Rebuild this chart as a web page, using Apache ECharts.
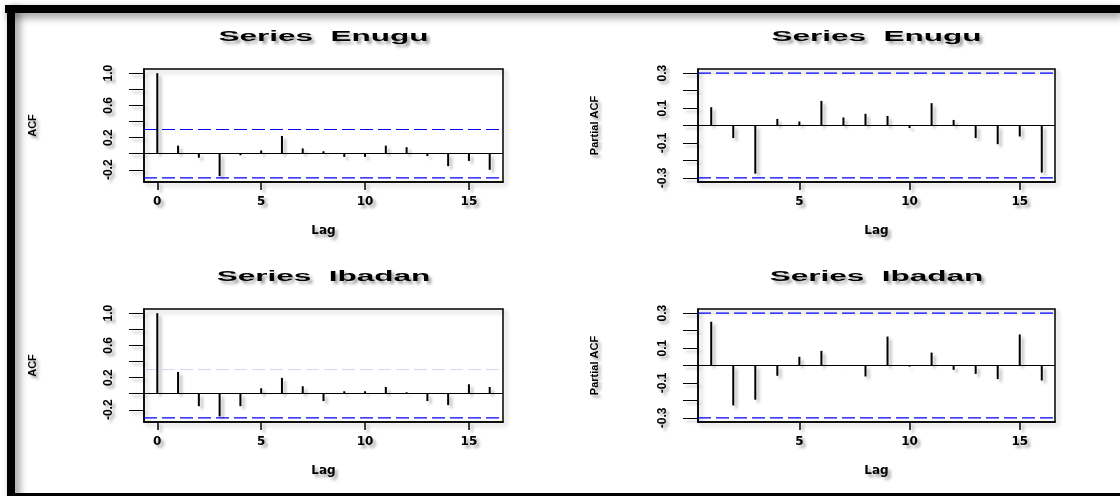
<!DOCTYPE html>
<html><head><meta charset="utf-8">
<script src="https://cdn.jsdelivr.net/npm/echarts@6/dist/echarts.min.js"></script>
<style>html,body{margin:0;padding:0;background:#fff}#c{width:1120px;height:496px}</style>
</head><body><div id="c"></div>
<script>
// ---- data ----
const lagsAcf = [0,1,2,3,4,5,6,7,8,9,10,11,12,13,14,15,16];
const lagsPacf = [1,2,3,4,5,6,7,8,9,10,11,12,13,14,15,16];
const acfEnugu = [1.0,0.10,-0.05,-0.28,-0.02,0.04,0.22,0.065,0.03,-0.04,-0.04,0.10,0.08,-0.03,-0.155,-0.09,-0.20];
const pacfEnugu = [0.105,-0.072,-0.276,0.038,0.023,0.141,0.046,0.067,0.055,-0.015,0.128,0.032,-0.072,-0.107,-0.063,-0.27];
const acfIbadan = [1.0,0.27,-0.155,-0.283,-0.155,0.067,0.196,0.092,-0.092,0.03,0.03,0.083,0.017,-0.092,-0.142,0.117,0.083];
const pacfIbadan = [0.251,-0.229,-0.196,-0.059,0.050,0.084,-0.002,-0.063,0.166,-0.006,0.074,-0.025,-0.048,-0.078,0.178,-0.086];
const confLimit = 0.30;
const acfTicks = [-0.2,0,0.2,0.4,0.6,0.8,1.0];
const acfTickLabels = [-0.2,0.2,0.6,1.0];
const pacfTicks = [-0.3,-0.2,-0.1,0,0.1,0.2,0.3];
const pacfTickLabels = [-0.3,-0.1,0.1,0.3];
const acfLagTicks = [0,5,10,15];
const pacfLagTicks = [5,10,15];
const acfLagRange = [-0.64, 16.64];
const pacfLagRange = [0.4, 16.6];
const acfValueRange = [-0.352, 1.052];
const pacfValueRange = [-0.324, 0.324];
const titles = ['Series  Enugu','Series  Enugu','Series  Ibadan','Series  Ibadan'];
const yNames = ['ACF','Partial ACF','ACF','Partial ACF'];
const xName = 'Lag';

// ---- layout ----
const panels = [
  {left:144, top:69, width:359, height:113, lags:lagsAcf, vals:acfEnugu, acf:true, upperFaint:false},
  {left:698, top:69, width:357, height:113, lags:lagsPacf, vals:pacfEnugu, acf:false, upperFaint:false},
  {left:144, top:309, width:359, height:113, lags:lagsAcf, vals:acfIbadan, acf:true, upperFaint:true},
  {left:698, top:309, width:357, height:113, lags:lagsPacf, vals:pacfIbadan, acf:false, upperFaint:false}
];
const shadowTxt = () => ({textShadowColor:'rgba(0,0,0,0.35)', textShadowBlur:3, textShadowOffsetX:3, textShadowOffsetY:3});
const shadowLine = () => ({shadowColor:'rgba(0,0,0,0.3)', shadowBlur:3, shadowOffsetX:3, shadowOffsetY:3});

const grid = [], xAxis = [], yAxis = [], series = [], graphic = [];
panels.forEach((p, i) => {
  const xr = p.acf ? acfLagRange : pacfLagRange;
  const yr = p.acf ? acfValueRange : pacfValueRange;
  grid.push({left:p.left, top:p.top, width:p.width, height:p.height, show:true,
    borderColor:'#000', borderWidth:1.5, backgroundColor:'transparent',
    shadowColor:'rgba(0,0,0,0.25)', shadowBlur:4, shadowOffsetX:3, shadowOffsetY:3});
  const xt = p.acf ? acfLagTicks : pacfLagTicks;
  xAxis.push({type:'value', gridIndex:i, min:xr[0], max:xr[1],
    name: xName, nameLocation:'middle', nameGap:43,
    nameTextStyle:Object.assign({color:'#000', fontFamily:'DejaVu Sans', fontWeight:'bold', fontSize:12}, shadowTxt()),
    axisLine:{show:true, onZero:false, lineStyle:{color:'#000', width:1.5}},
    splitLine:{show:false},
    axisTick:{show:true, length:8, customValues:xt, lineStyle:Object.assign({color:'#000', width:1.5}, shadowLine())},
    axisLabel:Object.assign({customValues:xt, margin:14, color:'#000', fontFamily:'DejaVu Sans', fontWeight:'bold', fontSize:12}, shadowTxt())
  });
  const yt = p.acf ? acfTicks : pacfTicks;
  const yl = p.acf ? acfTickLabels : pacfTickLabels;
  yAxis.push({type:'value', gridIndex:i, min:yr[0], max:yr[1],
    name: yNames[i], nameLocation:'middle', nameRotate:90, nameGap: p.acf ? 106 : 98,
    nameTextStyle:Object.assign({color:'#000', fontFamily:'Liberation Sans', fontWeight:'bold', fontSize:11}, shadowTxt()),
    axisLine:{show:true, onZero:false, lineStyle:{color:'#000', width:1.5}},
    splitLine:{show:false},
    axisTick:{show:true, length:15, customValues:yt, lineStyle:Object.assign({color:'#000', width:1}, shadowLine())},
    axisLabel:Object.assign({customValues:yl, rotate:90, margin:29, color:'#000', fontFamily:'Liberation Sans', fontWeight:'bold', fontSize:12,
      formatter: v => v.toFixed(1)}, shadowTxt())
  });
  // confidence bands (dashed blue)
  series.push({type:'line', xAxisIndex:i, yAxisIndex:i, silent:true, animation:false, showSymbol:false, symbol:'none', z:1,
    data:[[xr[0], confLimit],[xr[1], confLimit]],
    lineStyle: p.upperFaint ? {color:'rgba(120,120,200,0.3)', type:[13,5], width:1} : {color:'#0000ff', type:[13,5], width:1.2}});
  series.push({type:'line', xAxisIndex:i, yAxisIndex:i, silent:true, animation:false, showSymbol:false, symbol:'none', z:1,
    data:[[xr[0], -confLimit],[xr[1], -confLimit]],
    lineStyle:{color:'#0000ff', type:[13,5], width:1.2}});
  // spikes + zero line
  series.push({type:'bar', xAxisIndex:i, yAxisIndex:i, barWidth:2, z:3,
    data: p.lags.map((l, k) => [l, p.vals[k]]),
    itemStyle:Object.assign({color:'#000'}, shadowLine()),
    silent:true, animation:false,
    markLine:{silent:true, symbol:['none','none'], animation:false, label:{show:false},
      lineStyle:{color:'#000', type:'solid', width:1.2},
      data:[{yAxis:0}]}
  });
  graphic.push({type:'text', x:p.left + p.width/2, y:p.top - 32, scaleX:2.25, scaleY:1,
    style:Object.assign({text:titles[i], fill:'#000', font:'bold 14px "Liberation Sans", Arial, sans-serif',
      align:'center', verticalAlign:'middle'}, shadowTxt())});
});

// outer frame
graphic.push({type:'rect', shape:{x:5, y:5, width:1115, height:8}, style:{fill:'#000', shadowColor:'rgba(0,0,0,0.45)', shadowBlur:8, shadowOffsetX:3, shadowOffsetY:4}, z:-1});
graphic.push({type:'rect', shape:{x:7, y:5, width:8, height:491}, style:{fill:'#000', shadowColor:'rgba(0,0,0,0.45)', shadowBlur:8, shadowOffsetX:4, shadowOffsetY:3}, z:-1});
graphic.push({type:'rect', shape:{x:7, y:493, width:1113, height:3}, style:{fill:'#000'}, z:-1});

const chart = echarts.init(document.getElementById('c'), null, {renderer:'canvas'});
chart.setOption({animation:false, backgroundColor:'#fff', grid, xAxis, yAxis, series, graphic});
</script></body></html>
